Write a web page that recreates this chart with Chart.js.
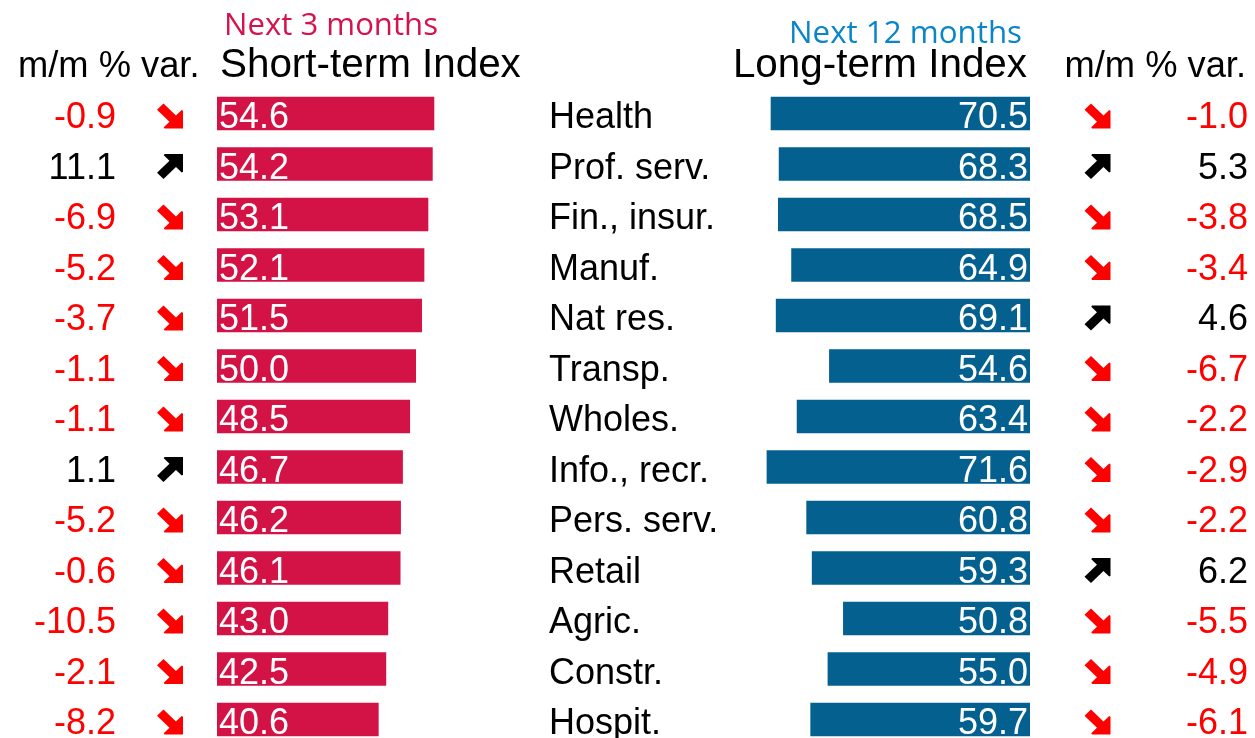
<!DOCTYPE html>
<html><head><meta charset="utf-8">
<script src="https://cdn.jsdelivr.net/npm/chart.js@4.4.1/dist/chart.umd.min.js"></script>
<style>html,body{margin:0;padding:0;background:#fff;overflow:hidden}#wrap{position:relative;width:1255px;height:760px}</style>
</head><body><div id="wrap"><canvas id="c"></canvas></div>
<script>
const categories = ['Health','Prof. serv.','Fin., insur.','Manuf.','Nat res.','Transp.','Wholes.','Info., recr.','Pers. serv.','Retail','Agric.','Constr.','Hospit.'];
const shortTerm = [54.6,54.2,53.1,52.1,51.5,50.0,48.5,46.7,46.2,46.1,43.0,42.5,40.6];
const shortVar  = [-0.9,11.1,-6.9,-5.2,-3.7,-1.1,-1.1,1.1,-5.2,-0.6,-10.5,-2.1,-8.2];
const longTerm  = [70.5,68.3,68.5,64.9,69.1,54.6,63.4,71.6,60.8,59.3,50.8,55.0,59.7];
const longVar   = [-1.0,5.3,-3.8,-3.4,4.6,-6.7,-2.2,-2.9,-2.2,6.2,-5.5,-4.9,-6.1];
const titles = {shortTop:'Next 3 months', shortMain:'Short-term Index', longTop:'Next 12 months', longMain:'Long-term Index', varHead:'m/m % var.'};

const SHORT_COLOR = '#D31245', LONG_COLOR = '#03608F';
const TOP_SHORT_COLOR = '#D4134C', TOP_LONG_COLOR = '#0A86C8';
const NEG = '#FF0000', POS = '#000000';
const SANS = '"Liberation Sans", Arial, sans-serif';

function drawArrow(ctx, cx, cy, w, h, up, color){
  const pts = [[0.25,0.0],[0.73,0.48],[0.95,0.26],[1,0.29],[1,1],[0.29,1],[0.26,0.95],[0.48,0.73],[0.0,0.25]];
  ctx.beginPath();
  pts.forEach((p,k)=>{
    const px = cx + (p[0]-0.5)*w;
    const py = cy + ((up ? 1-p[1] : p[1]) - 0.5)*h;
    if(k===0) ctx.moveTo(px,py); else ctx.lineTo(px,py);
  });
  ctx.closePath();
  ctx.fillStyle = color; ctx.fill();
}
function drawFitted(ctx, text, family, size, x, y, target, align){
  ctx.font = size + 'px ' + family;
  const w = ctx.measureText(text).width;
  const sx = target / w;
  ctx.save();
  ctx.textAlign = 'left';
  const x0 = align === 'right' ? x - target : x;
  ctx.translate(x0, y);
  ctx.scale(sx, 1);
  ctx.fillText(text, 0, 0);
  ctx.restore();
}

const overlay = {
  id:'overlay',
  afterDatasetsDraw(chart){
    const ctx = chart.ctx, ys = chart.scales.y;
    const mL = chart.getDatasetMeta(0), mR = chart.getDatasetMeta(1);
    ctx.save();
    ctx.textBaseline = 'alphabetic';
    categories.forEach((cat,i)=>{
      const cy = ys.getPixelForValue(i);
      const bl = cy + 14.7;
      ctx.font = '36px ' + SANS;
      ctx.textAlign = 'right';
      ctx.fillStyle = shortVar[i] < 0 ? NEG : POS;
      ctx.fillText(shortVar[i].toFixed(1), 116, bl);
      drawArrow(ctx, 170, cy+2.5, 26, 25, shortVar[i] >= 0, shortVar[i] < 0 ? NEG : POS);
      const bL = mL.data[i];
      ctx.textAlign = 'left';
      ctx.fillStyle = '#fff';
      ctx.fillText(shortTerm[i].toFixed(1), bL.base + 2, bl);
      ctx.fillStyle = '#000';
      ctx.fillText(cat, 549, bl);
      const bR = mR.data[i];
      ctx.textAlign = 'right';
      ctx.fillStyle = '#fff';
      ctx.fillText(longTerm[i].toFixed(1), bR.base - 2, bl);
      drawArrow(ctx, 1097.5, cy+2.5, 26, 25, longVar[i] >= 0, longVar[i] < 0 ? NEG : POS);
      ctx.textAlign = 'right';
      ctx.fillStyle = longVar[i] < 0 ? NEG : POS;
      ctx.fillText(longVar[i].toFixed(1), 1248, bl);
    });
    ctx.fillStyle = '#000';
    ctx.font = '36.3px ' + SANS;
    ctx.textAlign = 'left';
    ctx.fillText(titles.varHead, 18, 77);
    ctx.textAlign = 'right';
    ctx.fillText(titles.varHead, 1246, 77);
    ctx.font = '40.4px ' + SANS;
    ctx.textAlign = 'left';
    ctx.fillText(titles.shortMain, 220, 77);
    ctx.textAlign = 'right';
    ctx.fillText(titles.longMain, 1027, 77);
    const topFam = '"Open Sans", "Noto Sans", sans-serif';
    ctx.fillStyle = TOP_SHORT_COLOR;
    drawFitted(ctx, titles.shortTop, topFam, 31.5, 224, 35, 214, 'left');
    ctx.fillStyle = TOP_LONG_COLOR;
    drawFitted(ctx, titles.longTop, topFam, 31.5, 1022, 43, 233, 'right');
    ctx.restore();
  }
};

new Chart(document.getElementById('c'), {
  type:'bar',
  data:{
    labels: categories,
    datasets:[
      {data: shortTerm, xAxisID:'xL', backgroundColor: SHORT_COLOR, barThickness:33, grouped:false, borderWidth:0},
      {data: longTerm, xAxisID:'xR', backgroundColor: LONG_COLOR, barThickness:33, grouped:false, borderWidth:0}
    ]
  },
  options:{
    indexAxis:'y',
    responsive:true, maintainAspectRatio:false, animation:false,
    layout:{padding:{left:217, right:225, top:88.25, bottom:15.25}},
    plugins:{legend:{display:false}, tooltip:{enabled:false}},
    scales:{
      y:{type:'category', display:false, offset:true},
      xL:{type:'linear', display:false, min:0, max:204.6},
      xR:{type:'linear', display:false, min:0, max:221.3, reverse:true}
    }
  },
  plugins:[overlay]
});
</script></body></html>
